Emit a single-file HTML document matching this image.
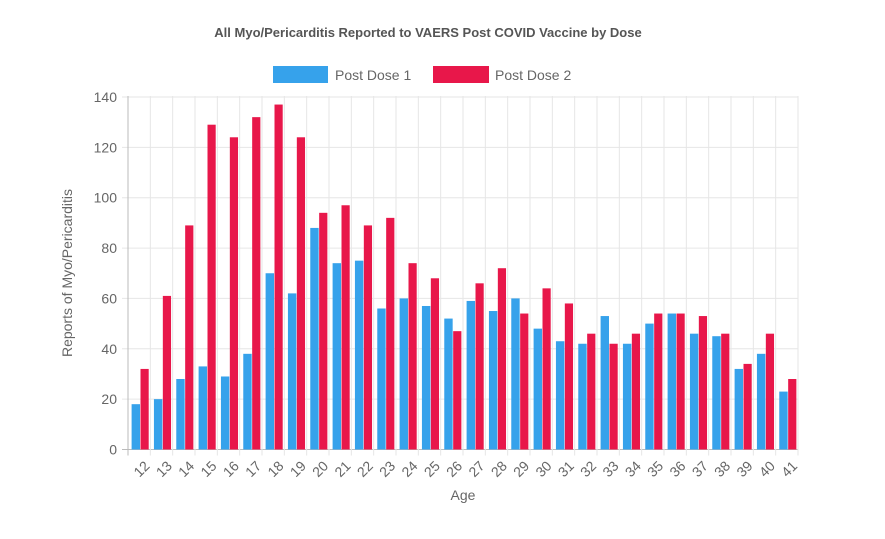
<!DOCTYPE html><html><head><style>body{margin:0;background:#fff}svg{display:block;font-family:"Liberation Sans",sans-serif}</style></head><body>
<svg width="885" height="539" xmlns="http://www.w3.org/2000/svg" id="s">
<rect width="885" height="539" fill="#fff"/>
<text x="428" y="37" text-anchor="middle" font-size="13" font-weight="bold" fill="#555">All Myo/Pericarditis Reported to VAERS Post COVID Vaccine by Dose</text>
<rect x="273" y="66" width="55" height="17" fill="#36a2eb"/><text x="335" y="80" font-size="14" fill="#666">Post Dose 1</text>
<rect x="433" y="66" width="56" height="17" fill="#e8174a"/><text x="495" y="80" font-size="14" fill="#666">Post Dose 2</text>
<text transform="translate(72,273) rotate(-90)" text-anchor="middle" font-size="14" fill="#666">Reports of Myo/Pericarditis</text>
<text x="463" y="500" text-anchor="middle" font-size="14" fill="#666">Age</text>
<g id="g"></g>
</svg>
<script>
var b=[18,20,28,33,29,38,70,62,88,74,75,56,60,57,52,59,55,60,48,43,42,53,42,50,54,46,45,32,38,23];
var r=[32,61,89,129,124,132,137,124,94,97,89,92,74,68,47,66,72,54,64,58,46,42,46,54,54,53,46,34,46,28];
var x0=128,x1=798,y0=449.5,k=352.5/140,w=(x1-x0)/30,h='';
for(var i=0;i<=7;i++){var y=y0-i*20*k;h+='<line x1="122" x2="'+x1+'" y1="'+y+'" y2="'+y+'" stroke="'+(i?'#e6e6e6':'#bbb')+'"/>';h+='<text x="117" y="'+(y+5)+'" text-anchor="end" font-size="14" fill="#666">'+(i*20)+'</text>';}
for(var i=0;i<=30;i++){var x=x0+i*w;h+='<line x1="'+x+'" x2="'+x+'" y1="96" y2="'+(y0+6)+'" stroke="'+(i?'#e6e6e6':'#bbb')+'"/>';}
for(var i=0;i<30;i++){var x=x0+i*w;
h+='<rect x="'+(x+3.6)+'" y="'+(y0-b[i]*k)+'" width="8.4" height="'+(b[i]*k)+'" fill="#36a2eb"/>';
h+='<rect x="'+(x+12.5)+'" y="'+(y0-r[i]*k)+'" width="8.2" height="'+(r[i]*k)+'" fill="#e8174a"/>';
var cx=x+w/2+4,cy=y0+10;h+='<text transform="translate('+cx+','+cy+') rotate(-45)" text-anchor="end" dominant-baseline="hanging" font-size="14" fill="#666">'+(12+i)+'</text>';}
document.getElementById('g').innerHTML=h;
</script></body></html>
